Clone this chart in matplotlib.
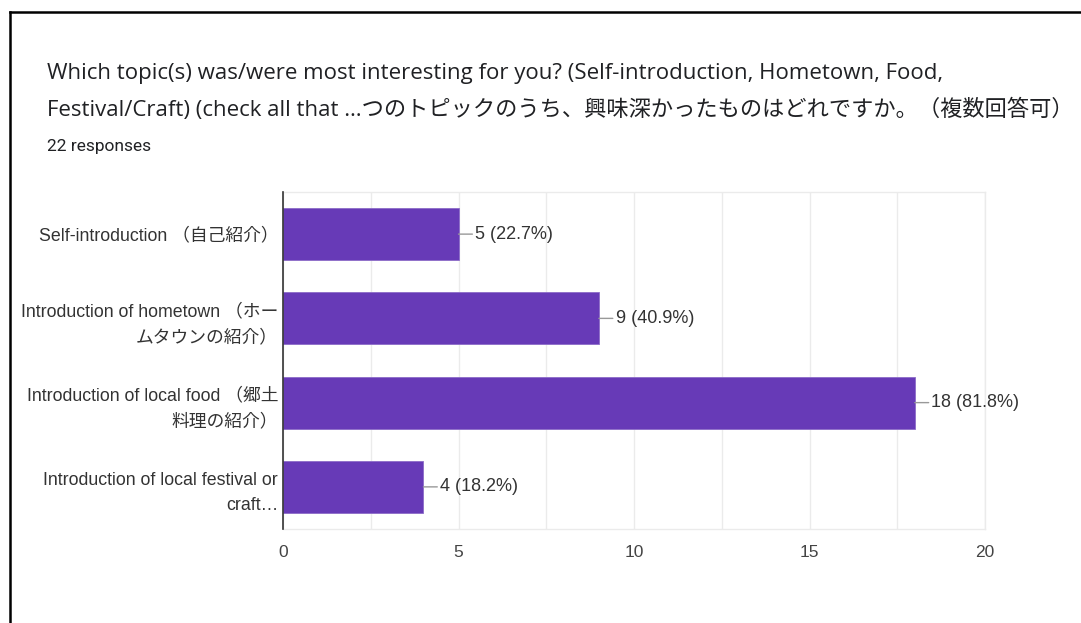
import matplotlib.pyplot as plt
from matplotlib.lines import Line2D

plt.rcParams['font.family'] = ['Liberation Sans', 'Noto Sans CJK JP', 'DejaVu Sans']
TITLE_FONT = ['Open Sans', 'Noto Sans CJK JP', 'DejaVu Sans']

# survey data
topics = [
    "Self-introduction （自己紹介）",
    "Introduction of hometown （ホー\nムタウンの紹介）",
    "Introduction of local food （郷土\n料理の紹介）",
    "Introduction of local festival or\ncraft…",
]
counts = [5, 9, 18, 4]
n_responses = 22
xticks = [0, 5, 10, 15, 20]

title_1 = "Which topic(s) was/were most interesting for you? (Self-introduction, Hometown, Food,"
title_2 = "Festival/Craft) (check all that …つのトピックのうち、興味深かったものはどれですか。（複数回答可）"

W, H = 1081, 623
fig = plt.figure(figsize=(W / 100, H / 100), dpi=100)
fig.patch.set_facecolor('white')

# card border (top and left edges only)
fig.add_artist(Line2D([10 / W, 1], [1 - 12 / H] * 2, color='black', lw=1.8))
fig.add_artist(Line2D([10 / W] * 2, [0, 1 - 12 / H], color='black', lw=1.8))

fig.text(47 / W, 1 - 73 / H, title_1, fontsize=16, color='#202124', va='center', family=TITLE_FONT)
fig.text(47 / W, 1 - 110 / H, title_2, fontsize=16, color='#202124', va='center', family=TITLE_FONT)
fig.text(47 / W, 1 - 146 / H, f"{n_responses} responses", fontsize=12.5, color='#202124',
         va='center', family=['Roboto'])

ax = fig.add_axes([283 / W, 1 - 529 / H, (985 - 283) / W, (529 - 192) / H])
y = list(range(len(topics)))
ax.barh(y, counts, height=0.62, color='#673AB7', edgecolor='#8c6cc8', linewidth=0.6, zorder=3)

ax.set_xlim(0, 20)
ax.set_ylim(len(topics) - 0.5, -0.5)
ax.set_xticks(xticks)
ax.set_xticks([2.5, 7.5, 12.5, 17.5], minor=True)
ax.grid(axis='x', which='both', color='#ebebeb', lw=1, zorder=0)
ax.tick_params(axis='x', which='both', length=0, pad=11.5, labelsize=12.5, labelcolor='#444444')
ax.set_yticks(y)
ax.set_yticklabels(topics, fontsize=12.8, color='#333333', linespacing=1.66)
ax.tick_params(axis='y', length=0, pad=3.5)

for s in ['top', 'right', 'bottom']:
    ax.spines[s].set_color('#ebebeb')
    ax.spines[s].set_linewidth(1)
ax.spines['left'].set_color('#333333')
ax.spines['left'].set_linewidth(1.2)
ax.spines['left'].set_zorder(4)

for i, c in enumerate(counts):
    ax.annotate(f"{c} ({c / n_responses * 100:.1f}%)", xy=(c, i), xytext=(12, 0),
                textcoords='offset points', va='center', ha='left',
                fontsize=13, color='#333333',
                arrowprops=dict(arrowstyle='-', color='#999999', lw=1,
                                shrinkA=0, shrinkB=0))

fig.savefig('out.png', dpi=100, facecolor='white')
